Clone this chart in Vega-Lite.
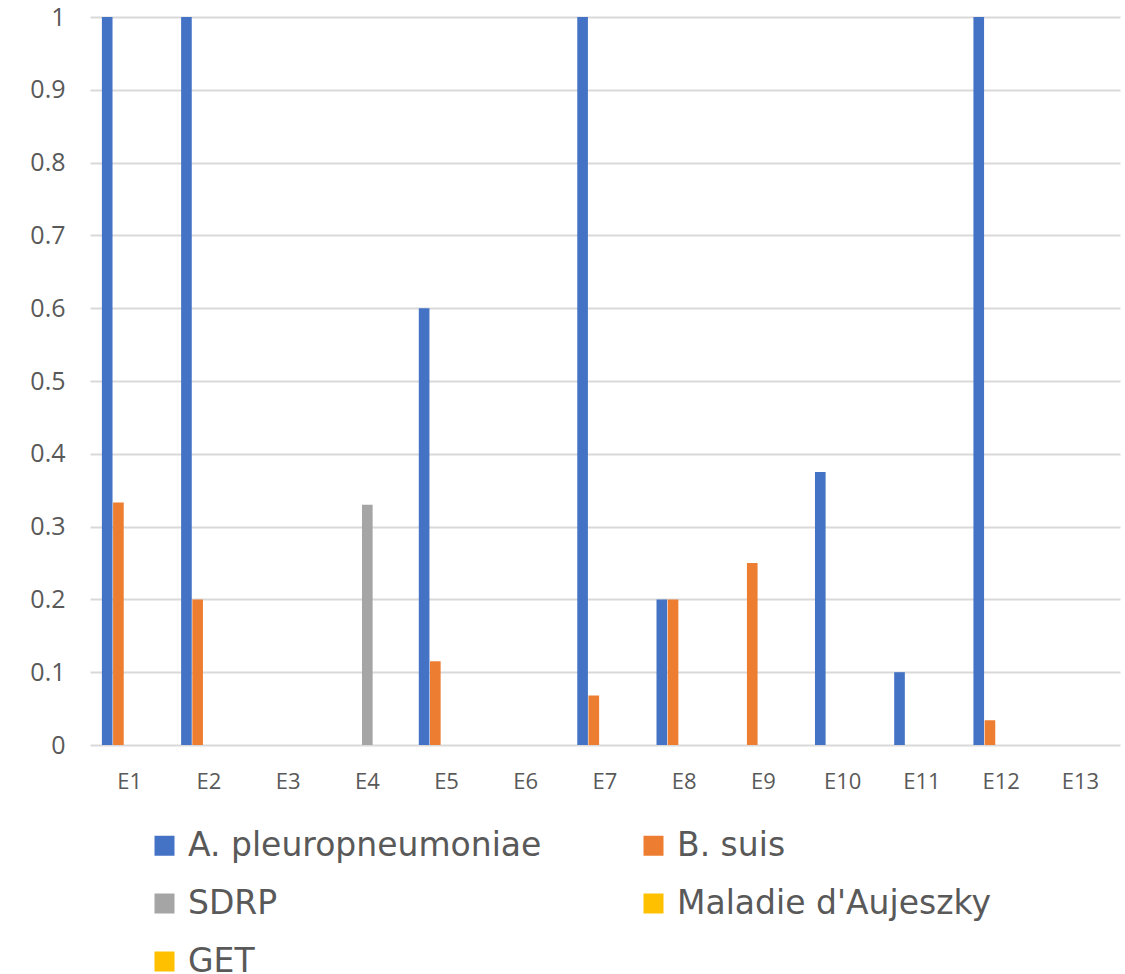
{
  "$schema": "https://vega.github.io/schema/vega-lite/v6.json",
  "width": 1030,
  "height": 728,
  "autosize": "none",
  "padding": {"left": 90, "top": 17, "right": 5, "bottom": 229},
  "background": "white",
  "config": {"view": {"stroke": null}, "font": "Open Sans"},
  "data": {"values": [
    {"e": "E1", "s": "A. pleuropneumoniae", "v": 1},
    {"e": "E1", "s": "B. suis", "v": 0.333},
    {"e": "E1", "s": "SDRP", "v": 0},
    {"e": "E1", "s": "Maladie d'Aujeszky", "v": 0},
    {"e": "E1", "s": "GET", "v": 0},
    {"e": "E2", "s": "A. pleuropneumoniae", "v": 1},
    {"e": "E2", "s": "B. suis", "v": 0.2},
    {"e": "E2", "s": "SDRP", "v": 0},
    {"e": "E2", "s": "Maladie d'Aujeszky", "v": 0},
    {"e": "E2", "s": "GET", "v": 0},
    {"e": "E3", "s": "A. pleuropneumoniae", "v": 0},
    {"e": "E3", "s": "B. suis", "v": 0},
    {"e": "E3", "s": "SDRP", "v": 0},
    {"e": "E3", "s": "Maladie d'Aujeszky", "v": 0},
    {"e": "E3", "s": "GET", "v": 0},
    {"e": "E4", "s": "A. pleuropneumoniae", "v": 0},
    {"e": "E4", "s": "B. suis", "v": 0},
    {"e": "E4", "s": "SDRP", "v": 0.33},
    {"e": "E4", "s": "Maladie d'Aujeszky", "v": 0},
    {"e": "E4", "s": "GET", "v": 0},
    {"e": "E5", "s": "A. pleuropneumoniae", "v": 0.6},
    {"e": "E5", "s": "B. suis", "v": 0.115},
    {"e": "E5", "s": "SDRP", "v": 0},
    {"e": "E5", "s": "Maladie d'Aujeszky", "v": 0},
    {"e": "E5", "s": "GET", "v": 0},
    {"e": "E6", "s": "A. pleuropneumoniae", "v": 0},
    {"e": "E6", "s": "B. suis", "v": 0},
    {"e": "E6", "s": "SDRP", "v": 0},
    {"e": "E6", "s": "Maladie d'Aujeszky", "v": 0},
    {"e": "E6", "s": "GET", "v": 0},
    {"e": "E7", "s": "A. pleuropneumoniae", "v": 1},
    {"e": "E7", "s": "B. suis", "v": 0.068},
    {"e": "E7", "s": "SDRP", "v": 0},
    {"e": "E7", "s": "Maladie d'Aujeszky", "v": 0},
    {"e": "E7", "s": "GET", "v": 0},
    {"e": "E8", "s": "A. pleuropneumoniae", "v": 0.2},
    {"e": "E8", "s": "B. suis", "v": 0.2},
    {"e": "E8", "s": "SDRP", "v": 0},
    {"e": "E8", "s": "Maladie d'Aujeszky", "v": 0},
    {"e": "E8", "s": "GET", "v": 0},
    {"e": "E9", "s": "A. pleuropneumoniae", "v": 0},
    {"e": "E9", "s": "B. suis", "v": 0.25},
    {"e": "E9", "s": "SDRP", "v": 0},
    {"e": "E9", "s": "Maladie d'Aujeszky", "v": 0},
    {"e": "E9", "s": "GET", "v": 0},
    {"e": "E10", "s": "A. pleuropneumoniae", "v": 0.375},
    {"e": "E10", "s": "B. suis", "v": 0},
    {"e": "E10", "s": "SDRP", "v": 0},
    {"e": "E10", "s": "Maladie d'Aujeszky", "v": 0},
    {"e": "E10", "s": "GET", "v": 0},
    {"e": "E11", "s": "A. pleuropneumoniae", "v": 0.1},
    {"e": "E11", "s": "B. suis", "v": 0},
    {"e": "E11", "s": "SDRP", "v": 0},
    {"e": "E11", "s": "Maladie d'Aujeszky", "v": 0},
    {"e": "E11", "s": "GET", "v": 0},
    {"e": "E12", "s": "A. pleuropneumoniae", "v": 1},
    {"e": "E12", "s": "B. suis", "v": 0.034},
    {"e": "E12", "s": "SDRP", "v": 0},
    {"e": "E12", "s": "Maladie d'Aujeszky", "v": 0},
    {"e": "E12", "s": "GET", "v": 0},
    {"e": "E13", "s": "A. pleuropneumoniae", "v": 0},
    {"e": "E13", "s": "B. suis", "v": 0},
    {"e": "E13", "s": "SDRP", "v": 0},
    {"e": "E13", "s": "Maladie d'Aujeszky", "v": 0},
    {"e": "E13", "s": "GET", "v": 0}
  ]},
  "mark": {"type": "bar", "strokeWidth": 0},
  "encoding": {
    "x": {
      "field": "e", "type": "nominal", "sort": null, "title": null,
      "scale": {"paddingInner": 0.3, "paddingOuter": 0.15},
      "axis": {"labelAngle": 0, "domain": false, "ticks": false, "labelFontSize": 22, "labelColor": "#595959", "labelPadding": 26, "labelFont": "Open Sans"}
    },
    "xOffset": {
      "field": "s", "type": "nominal", "sort": null,
      "scale": {"domain": ["A. pleuropneumoniae", "B. suis", "SDRP", "Maladie d'Aujeszky", "GET"], "paddingInner": 0.05, "paddingOuter": 0}
    },
    "y": {
      "field": "v", "type": "quantitative", "title": null,
      "scale": {"domain": [0, 1], "nice": false},
      "axis": {"values": [0, 0.1, 0.2, 0.3, 0.4, 0.5, 0.6, 0.7, 0.8, 0.9, 1], "format": "~g", "domain": false, "ticks": false, "gridColor": "#d9d9d9", "gridWidth": 2, "labelFontSize": 25, "labelColor": "#595959", "labelPadding": 25, "labelFont": "Open Sans"}
    },
    "color": {
      "field": "s", "type": "nominal", "sort": null, "title": null,
      "scale": {"domain": ["A. pleuropneumoniae", "B. suis", "SDRP", "Maladie d'Aujeszky", "GET"], "range": ["#4472C4", "#ED7D31", "#A5A5A5", "#FFC000", "#FFC000"]},
      "legend": {"orient": "none", "legendX": 58, "legendY": 812, "columns": 2, "direction": "horizontal", "symbolType": "square", "symbolSize": 400, "symbolStrokeWidth": 0, "labelFontSize": 33, "labelColor": "#595959", "labelFont": "DejaVu Sans", "labelLimit": 600, "rowPadding": 24, "columnPadding": 95, "padding": 0, "labelOffset": 7}
    }
  }
}
